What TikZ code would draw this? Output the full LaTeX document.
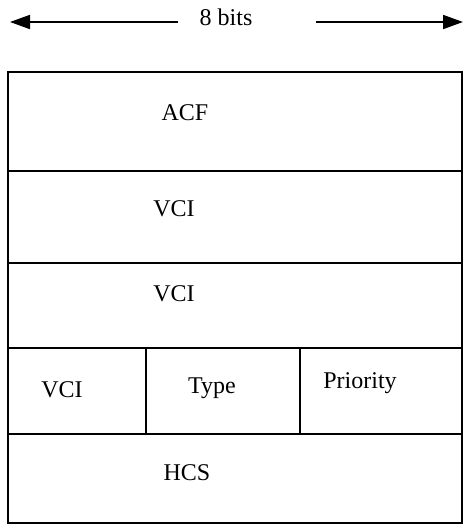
\documentclass[tikz,border=0pt]{standalone}
\usepackage{fontspec}
\setmainfont{Liberation Serif}
\usetikzlibrary{arrows.meta}
\begin{document}
\begin{tikzpicture}[x=1pt,y=-1pt,
  frame/.style={line width=2.2pt,line join=miter},
  field/.style={inner sep=0pt,anchor=base,font=\fontsize{24}{28}\selectfont},
  span/.style={line width=1.8pt,-{Triangle[length=20pt,width=14pt]}}]
  \useasboundingbox (0,0) rectangle (464,525);
  % field cells of the header
  \draw[frame] (8,72) rectangle (462,523);
  \draw[frame] (8,171) -- (462,171);
  \draw[frame] (8,263) -- (462,263);
  \draw[frame] (8,348) -- (462,348);
  \draw[frame] (8,434) -- (462,434);
  \draw[frame] (146,348) -- (146,434);
  \draw[frame] (300,348) -- (300,434);
  % field labels
  \node[field] (acf)  at (185,120) {ACF};
  \node[field] (vcia) at (174,216) {VCI};
  \node[field] (vcib) at (174,301) {VCI};
  \node[field] (vcic) at (62,397)  {VCI};
  \node[field] (type) at (212,393) {Type};
  \node[field] (prio) at (360,388) {Priority};
  \node[field] (hcs)  at (187,480) {HCS};
  % width marker
  \node[field] (bits) at (226,25) {8 bits};
  \coordinate (lstart) at (178,22);
  \coordinate (ltip) at (10,22);
  \coordinate (rstart) at (316,22);
  \coordinate (rtip) at (463,22);
  \draw[span] (lstart) -- (ltip);
  \draw[span] (rstart) -- (rtip);
\end{tikzpicture}
\end{document}
